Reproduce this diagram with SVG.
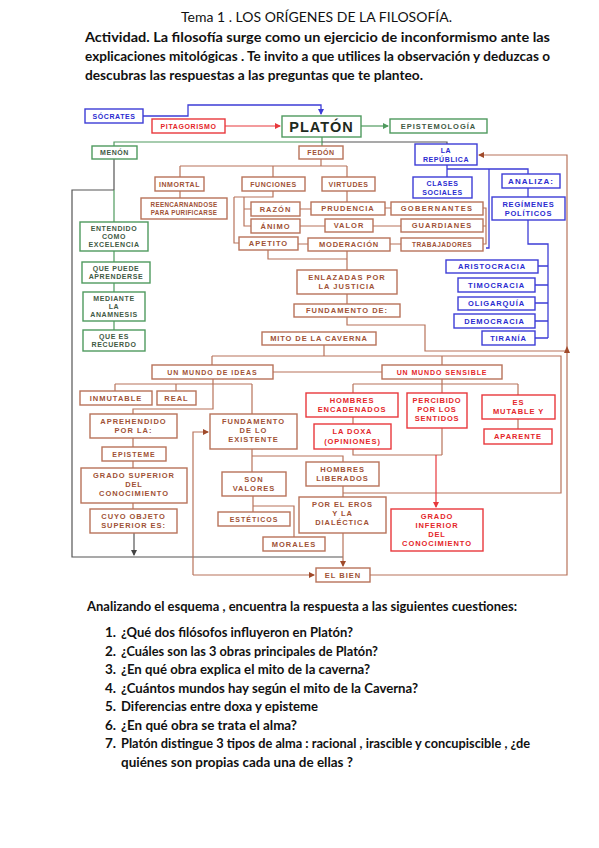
<svg xmlns="http://www.w3.org/2000/svg" width="599" height="848" viewBox="0 0 599 848">
<style>
.b{fill:#fff;stroke:#b8735a;stroke-width:1.4}
.r{fill:#fff;stroke:#e8383c;stroke-width:1.4}
.u{fill:#fff;stroke:#3d3dd6;stroke-width:1.4}
.g{fill:#fff;stroke:#4f9a5e;stroke-width:1.4}
text.n{font-family:"Liberation Sans",Arial,sans-serif;font-weight:bold;font-size:7px;letter-spacing:0.6px;text-anchor:middle}
.tb{fill:#a05236}.tr{fill:#e4262a}.tu{fill:#2b2bd0}.tg{fill:#3f5a45}
.lb{fill:none;stroke:#b8735a;stroke-width:1.2}
.lr{fill:none;stroke:#e8383c;stroke-width:1.2}
.lu{fill:none;stroke:#3d3dd6;stroke-width:1.3}
.lg{fill:none;stroke:#4f9a5e;stroke-width:1.2}
.ld{fill:none;stroke:#555;stroke-width:1.2}
.hd{font-family:Lato,"Open Sans",sans-serif;fill:#111}
</style>
<defs>
<marker id="ab" markerWidth="6" markerHeight="6" refX="5" refY="3" orient="auto" markerUnits="userSpaceOnUse"><path d="M0,0L6,3L0,6z" fill="#a04a2a"/></marker>
<marker id="ar" markerWidth="6" markerHeight="6" refX="5" refY="3" orient="auto" markerUnits="userSpaceOnUse"><path d="M0,0L6,3L0,6z" fill="#e8383c"/></marker>
<marker id="au" markerWidth="6" markerHeight="6" refX="5" refY="3" orient="auto" markerUnits="userSpaceOnUse"><path d="M0,0L6,3L0,6z" fill="#3d3dd6"/></marker>
<marker id="ag" markerWidth="6" markerHeight="6" refX="5" refY="3" orient="auto" markerUnits="userSpaceOnUse"><path d="M0,0L6,3L0,6z" fill="#4f9a5e"/></marker>
<marker id="ad" markerWidth="6" markerHeight="6" refX="5" refY="3" orient="auto" markerUnits="userSpaceOnUse"><path d="M0,0L6,3L0,6z" fill="#444"/></marker>
</defs>

<g id="header">
<text class="hd" x="181" y="22" font-size="14" textLength="271" lengthAdjust="spacingAndGlyphs">Tema 1 . LOS ORÍGENES DE LA FILOSOFÍA.</text>
<text class="hd" x="85" y="42" font-size="13.5" font-weight="bold" textLength="465" lengthAdjust="spacingAndGlyphs">Actividad. La filosofía surge como un ejercicio de inconformismo ante las</text>
<text class="hd" x="85" y="61" font-size="13.5" font-weight="bold" textLength="465" lengthAdjust="spacingAndGlyphs">explicaciones mitológicas . Te invito a que utilices la observación y deduzcas o</text>
<text class="hd" x="85" y="80" font-size="13.5" font-weight="bold" textLength="338" lengthAdjust="spacingAndGlyphs">descubras las respuestas a las preguntas que te planteo.</text>
</g>

<g id="connectors">
<path class="lu" d="M143,116H188V105H321V114" marker-end="url(#au)"/>
<path class="lr" d="M225,126H280" marker-end="url(#ar)"/>
<path class="lg" d="M361,126H388" marker-end="url(#ag)"/>
<path class="lg" d="M322,137V146M322,142H114V159"/>
<path class="ld" d="M322,142H447V144"/>
<path class="ld" d="M114,159V190M114,190H72V557H343"/>
<path class="lg" d="M114,190V222M114,251V262M114,283V292M114,321V330"/>
<path class="ld" d="M134,533V555" marker-end="url(#ad)"/>
<path class="lu" d="M447,165V177M447,169H528V174M489,169V248H486M528,188V197"/>
<path class="lu" d="M528,220V244H548V338M538,266H548M535,285H548M535,303H548M535,321H548M535,338H548"/>
<path class="lb" d="M321,159V166M180,166H347M180,166V177M273,166V177M347,166V177M180,191V198"/>
<path class="lb" d="M273,191V197H234M244,197V226H251M244,209H251M234,197V243H239"/>
<path class="lb" d="M300,209H311M300,226H325M298,244H308M385,208H391M373,226H401M390,244H401M347,191V202"/>
<path class="lb" d="M483,208H486V244H483M483,226H486"/>
<path class="lb" d="M268,250V259H347M347,251V270M347,294V304"/>
<path class="lb" d="M347,317V325H425V351H566"/>
<path class="lb" d="M370,575H567V155H479" marker-end="url(#ab)"/>
<path d="M567,346L564,353H570z" fill="#a04a2a"/>
<path class="lb" d="M324,345V356M212,356H561V493H343M212,356V365M442,356V365M273,372H382"/>
<path class="lb" d="M213,379V409H133V414M115,384H252M115,384V391M176,384V391M252,384V414"/>
<path class="lb" d="M133,438V447M133,461V468M133,503V509"/>
<path class="lb" d="M193,575H314" marker-end="url(#ab)"/>
<path class="lb" d="M193,575V432H208" marker-end="url(#ab)"/>
<path class="lb" d="M252,449V472M252,456H343V462M253,496V512M253,506H294V537M343,486V497"/>
<path class="lb" d="M343,533V566" marker-end="url(#ab)"/>
<path class="lb" d="M442,379V384M353,384H518M353,384V393M442,384V393M518,384V395M353,417V424M353,449V455H442M442,428V455M518,419V429"/>
<path class="lr" d="M436,455V507" marker-end="url(#ar)"/>
</g>

<g id="socrates"><rect class="u" x="85" y="109" width="58" height="14"/><text class="n tu" x="114" y="118.5">SÓCRATES</text></g>
<g id="pitagorismo"><rect class="r" x="152" y="119" width="73" height="14"/><text class="n tr" x="188.5" y="128.5">PITAGORISMO</text></g>
<g id="platon"><rect class="g" x="282" y="116" width="79" height="21"/><text class="n" x="321.5" y="132" style="font-size:14.5px;letter-spacing:1px;fill:#1e2a20">PLATÓN</text></g>
<g id="epistemologia"><rect class="g" x="390" y="119" width="97" height="14"/><text class="n tg" x="438.5" y="128.5" style="font-size:7.5px;letter-spacing:1px">EPISTEMOLOGÍA</text></g>
<g id="menon"><rect class="g" x="92" y="146" width="45" height="13"/><text class="n tg" x="114.5" y="155">MENÓN</text></g>
<g id="entendido"><rect class="g" x="80" y="222" width="68" height="29"/><text class="n tg" x="114" y="231">ENTENDIDO</text><text class="n tg" x="114" y="239">COMO</text><text class="n tg" x="114" y="247">EXCELENCIA</text></g>
<g id="quepuede"><rect class="g" x="82" y="262" width="68" height="21"/><text class="n tg" x="116" y="271">QUE PUEDE</text><text class="n tg" x="116" y="279">APRENDERSE</text></g>
<g id="mediante"><rect class="g" x="83" y="292" width="62" height="29"/><text class="n tg" x="114" y="301">MEDIANTE</text><text class="n tg" x="114" y="309">LA</text><text class="n tg" x="114" y="317">ANAMNESIS</text></g>
<g id="quees"><rect class="g" x="83" y="330" width="62" height="21"/><text class="n tg" x="114" y="339">QUE ES</text><text class="n tg" x="114" y="347">RECUERDO</text></g>

<g id="fedon"><rect class="b" x="299" y="146" width="44" height="13"/><text class="n tb" x="321" y="155">FEDÓN</text></g>
<g id="inmortal"><rect class="b" x="155" y="177" width="49" height="14"/><text class="n tb" x="179.5" y="186.5">INMORTAL</text></g>
<g id="funciones"><rect class="b" x="242" y="177" width="63" height="14"/><text class="n tb" x="273.5" y="186.5">FUNCIONES</text></g>
<g id="virtudes"><rect class="b" x="322" y="177" width="53" height="14"/><text class="n tb" x="348.5" y="186.5">VIRTUDES</text></g>
<g id="reencarnandose"><rect class="b" x="141" y="198" width="86" height="21"/><text class="n tb" x="184" y="207" style="font-size:6.3px;letter-spacing:0.3px">REENCARNANDOSE</text><text class="n tb" x="184" y="215" style="font-size:6.3px;letter-spacing:0.3px">PARA PURIFICARSE</text></g>
<g id="razon"><rect class="b" x="251" y="202" width="49" height="14"/><text class="n tb" x="275.5" y="211.5" style="font-size:7.5px;letter-spacing:1px">RAZÓN</text></g>
<g id="animo"><rect class="b" x="251" y="219" width="49" height="14"/><text class="n tb" x="275.5" y="228.5" style="font-size:7.5px;letter-spacing:1px">ÁNIMO</text></g>
<g id="apetito"><rect class="b" x="239" y="237" width="59" height="13"/><text class="n tb" x="268.5" y="246" style="font-size:7.5px;letter-spacing:1px">APETITO</text></g>
<g id="prudencia"><rect class="b" x="311" y="202" width="74" height="13"/><text class="n tb" x="348" y="211" style="font-size:7.5px;letter-spacing:1px">PRUDENCIA</text></g>
<g id="valor"><rect class="b" x="325" y="219" width="48" height="13"/><text class="n tb" x="349" y="228" style="font-size:7.5px;letter-spacing:1px">VALOR</text></g>
<g id="moderacion"><rect class="b" x="308" y="238" width="82" height="13"/><text class="n tb" x="349" y="247" style="font-size:7.5px;letter-spacing:0.8px">MODERACIÓN</text></g>
<g id="gobernantes"><rect class="b" x="391" y="202" width="92" height="13"/><text class="n tb" x="437" y="211" style="font-size:7.5px;letter-spacing:1.3px">GOBERNANTES</text></g>
<g id="guardianes"><rect class="b" x="401" y="219" width="82" height="13"/><text class="n tb" x="442" y="228" style="font-size:7.5px;letter-spacing:1px">GUARDIANES</text></g>
<g id="trabajadores"><rect class="b" x="401" y="238" width="82" height="13"/><text class="n tb" x="442" y="247" style="font-size:6.5px;letter-spacing:0.5px">TRABAJADORES</text></g>
<g id="enlazadas"><rect class="b" x="297" y="270" width="100" height="24"/><text class="n tb" x="347" y="280" style="font-size:7.5px;letter-spacing:1px">ENLAZADAS POR</text><text class="n tb" x="347" y="289" style="font-size:7.5px;letter-spacing:1px">LA JUSTICIA</text></g>
<g id="fundamentode"><rect class="b" x="294" y="304" width="106" height="13"/><text class="n tb" x="347" y="313" style="font-size:7.5px;letter-spacing:1px">FUNDAMENTO DE:</text></g>
<g id="mito"><rect class="b" x="262" y="332" width="114" height="13"/><text class="n tb" x="319" y="341" style="font-size:7.5px;letter-spacing:0.9px">MITO DE LA CAVERNA</text></g>

<g id="republica"><rect class="u" x="415" y="144" width="62" height="21"/><text class="n tu" x="446" y="153">LA</text><text class="n tu" x="446" y="161.5">REPÚBLICA</text></g>
<g id="clases"><rect class="u" x="413" y="177" width="59" height="21"/><text class="n tu" x="442.5" y="186">CLASES</text><text class="n tu" x="442.5" y="194.5">SOCIALES</text></g>
<g id="analiza"><rect class="u" x="502" y="174" width="58" height="14"/><text class="n tu" x="531" y="184" style="font-size:8px;letter-spacing:1px">ANALIZA:</text></g>
<g id="regimenes"><rect class="u" x="492" y="197" width="73" height="23"/><text class="n tu" x="528.5" y="206.5" style="font-size:7.5px;letter-spacing:0.8px">REGÍMENES</text><text class="n tu" x="528.5" y="215.5" style="font-size:7.5px;letter-spacing:0.8px">POLÍTICOS</text></g>
<g id="aristocracia"><rect class="u" x="446" y="260" width="92" height="13"/><text class="n tu" x="492" y="269" style="font-size:7.5px;letter-spacing:0.9px">ARISTOCRACIA</text></g>
<g id="timocracia"><rect class="u" x="458" y="278" width="77" height="14"/><text class="n tu" x="496.5" y="287.5" style="font-size:7.5px;letter-spacing:0.9px">TIMOCRACIA</text></g>
<g id="oligarquia"><rect class="u" x="458" y="297" width="77" height="13"/><text class="n tu" x="496.5" y="306" style="font-size:7.5px;letter-spacing:0.9px">OLIGARQUÍA</text></g>
<g id="democracia"><rect class="u" x="454" y="314" width="81" height="14"/><text class="n tu" x="494.5" y="323.5" style="font-size:7.5px;letter-spacing:0.9px">DEMOCRACIA</text></g>
<g id="tirania"><rect class="u" x="482" y="331" width="53" height="14"/><text class="n tu" x="508.5" y="340.5" style="font-size:7.5px;letter-spacing:0.9px">TIRANÍA</text></g>

<g id="mundoideas"><rect class="b" x="152" y="365" width="121" height="14"/><text class="n tb" x="212.5" y="374.5" style="letter-spacing:1px">UN MUNDO DE IDEAS</text></g>
<g id="mundosensible"><rect class="b" x="382" y="365" width="120" height="14"/><text class="n tr" x="442" y="374.5" style="letter-spacing:0.9px">UN MUNDO SENSIBLE</text></g>
<g id="inmutable"><rect class="b" x="80" y="391" width="72" height="14"/><text class="n tb" x="116" y="400.5" style="font-size:7.5px;letter-spacing:1px">INMUTABLE</text></g>
<g id="real"><rect class="b" x="157" y="391" width="39" height="14"/><text class="n tb" x="176.5" y="400.5" style="font-size:7.5px;letter-spacing:1px">REAL</text></g>
<g id="aprehendido"><rect class="b" x="90" y="414" width="87" height="24"/><text class="n tb" x="133.5" y="424" style="font-size:7.5px;letter-spacing:1px">APREHENDIDO</text><text class="n tb" x="133.5" y="433" style="font-size:7.5px;letter-spacing:1px">POR LA:</text></g>
<g id="fundamentoexistente"><rect class="b" x="210" y="414" width="87" height="35"/><text class="n tb" x="253.5" y="424" style="font-size:7.5px;letter-spacing:1px">FUNDAMENTO</text><text class="n tb" x="253.5" y="433" style="font-size:7.5px;letter-spacing:1px">DE LO</text><text class="n tb" x="253.5" y="442" style="font-size:7.5px;letter-spacing:1px">EXISTENTE</text></g>
<g id="episteme"><rect class="b" x="102" y="447" width="64" height="14"/><text class="n tb" x="134" y="456.5" style="letter-spacing:1px">EPISTEME</text></g>
<g id="gradosuperior"><rect class="b" x="81" y="468" width="106" height="35"/><text class="n tb" x="134" y="478" style="font-size:7.5px;letter-spacing:0.9px">GRADO SUPERIOR</text><text class="n tb" x="134" y="487" style="font-size:7.5px;letter-spacing:0.9px">DEL</text><text class="n tb" x="134" y="496" style="font-size:7.5px;letter-spacing:0.9px">CONOCIMIENTO</text></g>
<g id="cuyo"><rect class="b" x="90" y="509" width="87" height="24"/><text class="n tb" x="133.5" y="519" style="font-size:7.5px;letter-spacing:0.9px">CUYO OBJETO</text><text class="n tb" x="133.5" y="528" style="font-size:7.5px;letter-spacing:0.9px">SUPERIOR ES:</text></g>
<g id="sonvalores"><rect class="b" x="222" y="472" width="64" height="24"/><text class="n tb" x="254" y="482" style="font-size:7.5px;letter-spacing:1px">SON</text><text class="n tb" x="254" y="491" style="font-size:7.5px;letter-spacing:1px">VALORES</text></g>
<g id="esteticos"><rect class="b" x="218" y="512" width="72" height="14"/><text class="n tb" x="254" y="521.5" style="letter-spacing:1px">ESTÉTICOS</text></g>
<g id="morales"><rect class="b" x="263" y="537" width="62" height="14"/><text class="n tb" x="294" y="546.5" style="font-size:7.5px;letter-spacing:1px">MORALES</text></g>
<g id="hombresliberados"><rect class="b" x="306" y="462" width="73" height="24"/><text class="n tb" x="342.5" y="472" style="font-size:7.5px;letter-spacing:0.9px">HOMBRES</text><text class="n tb" x="342.5" y="481" style="font-size:7.5px;letter-spacing:0.9px">LIBERADOS</text></g>
<g id="poreleros"><rect class="b" x="299" y="497" width="87" height="36"/><text class="n tb" x="342.5" y="507" style="font-size:7.5px;letter-spacing:0.9px">POR EL EROS</text><text class="n tb" x="342.5" y="516" style="font-size:7.5px;letter-spacing:0.9px">Y LA</text><text class="n tb" x="342.5" y="525" style="font-size:7.5px;letter-spacing:0.9px">DIALÉCTICA</text></g>
<g id="elbien"><rect class="b" x="316" y="568" width="54" height="14"/><text class="n tb" x="343" y="577.5" style="font-size:7.5px;letter-spacing:1px">EL BIEN</text></g>

<g id="encadenados"><rect class="r" x="306" y="393" width="92" height="24"/><text class="n tr" x="352" y="403" style="font-size:7.5px;letter-spacing:0.9px">HOMBRES</text><text class="n tr" x="352" y="412" style="font-size:7.5px;letter-spacing:0.9px">ENCADENADOS</text></g>
<g id="percibido"><rect class="r" x="407" y="393" width="60" height="35"/><text class="n tr" x="437" y="403" style="font-size:7.5px;letter-spacing:0.8px">PERCIBIDO</text><text class="n tr" x="437" y="412" style="font-size:7.5px;letter-spacing:0.8px">POR LOS</text><text class="n tr" x="437" y="421" style="font-size:7.5px;letter-spacing:0.8px">SENTIDOS</text></g>
<g id="esmutable"><rect class="r" x="482" y="395" width="73" height="24"/><text class="n tr" x="518.5" y="405" style="font-size:7.5px;letter-spacing:0.9px">ES</text><text class="n tr" x="518.5" y="414" style="font-size:7.5px;letter-spacing:0.9px">MUTABLE Y</text></g>
<g id="aparente"><rect class="r" x="484" y="429" width="68" height="15"/><text class="n tr" x="518" y="439" style="font-size:7.5px;letter-spacing:0.9px">APARENTE</text></g>
<g id="doxa"><rect class="r" x="314" y="424" width="77" height="25"/><text class="n tr" x="352.5" y="434" style="font-size:7.5px;letter-spacing:0.9px">LA DOXA</text><text class="n tr" x="352.5" y="443.5" style="font-size:7.5px;letter-spacing:0.9px">(OPINIONES)</text></g>
<g id="gradoinferior"><rect class="r" x="391" y="509" width="92" height="42"/><text class="n tr" x="437" y="519" style="font-size:7.5px;letter-spacing:0.9px">GRADO</text><text class="n tr" x="437" y="528" style="font-size:7.5px;letter-spacing:0.9px">INFERIOR</text><text class="n tr" x="437" y="537" style="font-size:7.5px;letter-spacing:0.9px">DEL</text><text class="n tr" x="437" y="546" style="font-size:7.5px;letter-spacing:0.9px">CONOCIMIENTO</text></g>

<g id="questions">
<text class="hd" x="87" y="611" font-size="13.5" font-weight="bold" textLength="430" lengthAdjust="spacingAndGlyphs">Analizando el esquema , encuentra la respuesta a las siguientes cuestiones:</text>
<text class="hd" x="105" y="637" font-size="13.5" font-weight="bold">1.</text>
<text class="hd" x="121" y="637" font-size="13.5" font-weight="bold" textLength="232" lengthAdjust="spacingAndGlyphs">¿Qué dos filósofos influyeron en Platón?</text>
<text class="hd" x="105" y="656" font-size="13.5" font-weight="bold">2.</text>
<text class="hd" x="121" y="656" font-size="13.5" font-weight="bold" textLength="257" lengthAdjust="spacingAndGlyphs">¿Cuáles son las 3 obras principales de Platón?</text>
<text class="hd" x="105" y="674" font-size="13.5" font-weight="bold">3.</text>
<text class="hd" x="121" y="674" font-size="13.5" font-weight="bold" textLength="249" lengthAdjust="spacingAndGlyphs">¿En qué obra explica el mito de la caverna?</text>
<text class="hd" x="105" y="693" font-size="13.5" font-weight="bold">4.</text>
<text class="hd" x="121" y="693" font-size="13.5" font-weight="bold" textLength="297" lengthAdjust="spacingAndGlyphs">¿Cuántos mundos hay según el mito de la Caverna?</text>
<text class="hd" x="105" y="711" font-size="13.5" font-weight="bold">5.</text>
<text class="hd" x="121" y="711" font-size="13.5" font-weight="bold" textLength="197" lengthAdjust="spacingAndGlyphs">Diferencias entre doxa y episteme</text>
<text class="hd" x="105" y="730" font-size="13.5" font-weight="bold">6.</text>
<text class="hd" x="121" y="730" font-size="13.5" font-weight="bold" textLength="176" lengthAdjust="spacingAndGlyphs">¿En qué obra se trata el alma?</text>
<text class="hd" x="105" y="748" font-size="13.5" font-weight="bold">7.</text>
<text class="hd" x="121" y="748" font-size="13.5" font-weight="bold" textLength="409" lengthAdjust="spacingAndGlyphs">Platón distingue 3 tipos de alma : racional , irascible y concupiscible , ¿de</text>
<text class="hd" x="121" y="767" font-size="13.5" font-weight="bold" textLength="232" lengthAdjust="spacingAndGlyphs">quiénes son propias cada una de ellas ?</text>
</g>
</svg>
